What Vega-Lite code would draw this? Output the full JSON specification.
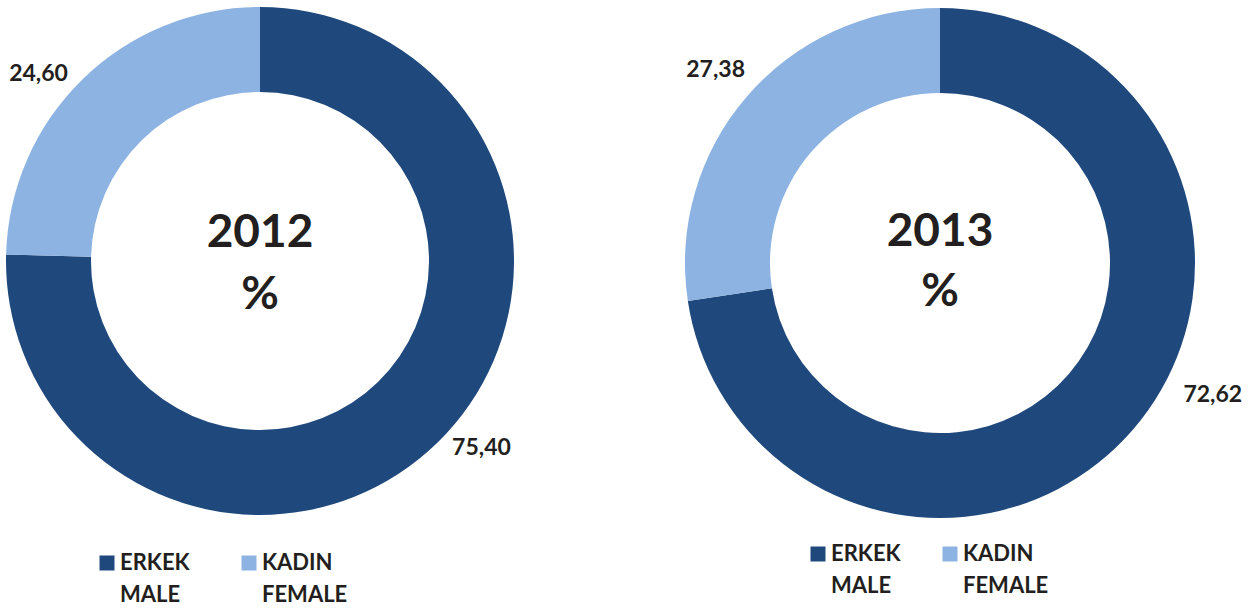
{
  "$schema": "https://vega.github.io/schema/vega-lite/v6.json",
  "background": "white",
  "padding": 0,
  "spacing": 160,
  "bounds": "flush",
  "data": {"values": [
    {"year": "2012", "sex": "ERKEK/MALE", "value": 75.40},
    {"year": "2012", "sex": "KADIN/FEMALE", "value": 24.60},
    {"year": "2013", "sex": "ERKEK/MALE", "value": 72.62},
    {"year": "2013", "sex": "KADIN/FEMALE", "value": 27.38}
  ]},
  "hconcat": [
    {
      "width": 520,
      "height": 522,
      "transform": [{"filter": "datum.year == '2012'"}],
      "resolve": {"scale": {"theta": "independent"}},
      "layer": [
        {
          "mark": {"type": "arc", "radius": 254, "radius2": 169},
          "encoding": {
            "theta": {"field": "value", "type": "quantitative", "stack": true},
            "order": {"field": "sex"},
            "color": {
              "field": "sex", "type": "nominal",
              "scale": {"domain": ["ERKEK/MALE", "KADIN/FEMALE"], "range": ["#1F497D", "#8DB3E2"]},
              "legend": {"title": null, "orient": "none", "direction": "horizontal", "legendX": 96, "legendY": 552, "columnPadding": 48,
                "labelExpr": "split(datum.label, '/')"}
            }
          }
        },
        {
          "mark": {"type": "text", "radius": 290, "font": "Lato", "fontSize": 23, "fontWeight": "bold", "color": "#231F20", "align": "center", "baseline": "middle"},
          "encoding": {
            "theta": {"field": "value", "type": "quantitative", "stack": true, "scale": {"range": [-0.096, 6.187]}},
            "order": {"field": "sex"},
            "text": {"field": "value", "type": "quantitative", "format": ".2f"}
          }
        },
        {
          "transform": [{"filter": "datum.sex == 'ERKEK/MALE'"}],
          "mark": {"type": "text", "text": ["2012", "%"], "lineHeight": 62, "dy": -28, "font": "Lato", "fontSize": 46, "fontWeight": "bold", "color": "#231F20", "align": "center", "baseline": "middle"},
          "encoding": {}
        }
      ]
    },
    {
      "width": 520,
      "height": 526,
      "transform": [{"filter": "datum.year == '2013'"}],
      "resolve": {"scale": {"theta": "independent"}},
      "layer": [
        {
          "mark": {"type": "arc", "radius": 255, "radius2": 170},
          "encoding": {
            "theta": {"field": "value", "type": "quantitative", "stack": true},
            "order": {"field": "sex"},
            "color": {
              "field": "sex", "type": "nominal",
              "scale": {"domain": ["ERKEK/MALE", "KADIN/FEMALE"], "range": ["#1F497D", "#8DB3E2"]},
              "legend": {"title": null, "orient": "none", "direction": "horizontal", "legendX": 127, "legendY": 543, "columnPadding": 38,
                "labelExpr": "split(datum.label, '/')"}
            }
          }
        },
        {
          "mark": {"type": "text", "radius": 296, "font": "Lato", "fontSize": 23, "fontWeight": "bold", "color": "#231F20", "align": "center", "baseline": "middle"},
          "encoding": {
            "theta": {"field": "value", "type": "quantitative", "stack": true},
            "order": {"field": "sex"},
            "text": {"field": "value", "type": "quantitative", "format": ".2f"},
            "opacity": {"condition": {"test": "datum.sex == 'KADIN/FEMALE'", "value": 1}, "value": 0}
          }
        },
        {
          "mark": {"type": "text", "radius": 303, "font": "Lato", "fontSize": 23, "fontWeight": "bold", "color": "#231F20", "align": "center", "baseline": "middle"},
          "encoding": {
            "theta": {"field": "value", "type": "quantitative", "stack": true, "scale": {"range": [-0.26, 6.023]}},
            "order": {"field": "sex"},
            "text": {"field": "value", "type": "quantitative", "format": ".2f"},
            "opacity": {"condition": {"test": "datum.sex == 'ERKEK/MALE'", "value": 1}, "value": 0}
          }
        },
        {
          "transform": [{"filter": "datum.sex == 'ERKEK/MALE'"}],
          "mark": {"type": "text", "text": ["2013", "%"], "lineHeight": 60, "dy": -31, "font": "Lato", "fontSize": 46, "fontWeight": "bold", "color": "#231F20", "align": "center", "baseline": "middle"},
          "encoding": {}
        }
      ]
    }
  ],
  "resolve": {"scale": {"color": "independent"}, "legend": {"color": "independent"}},
  "config": {
    "view": {"stroke": null},
    "locale": {"number": {"decimal": ",", "thousands": ".", "grouping": [3], "currency": ["", " TL"]}},
    "style": {"guide-label": {"lineHeight": 32}},
    "legend": {
      "symbolType": "square", "symbolSize": 225, "symbolStrokeWidth": 0, "symbolOpacity": 1,
      "labelFont": "Lato", "labelFontSize": 22, "labelFontWeight": "bold", "labelColor": "#231F20",
      "labelOffset": 2, "labelBaseline": "middle", "labelLimit": 300, "padding": 0
    }
  }
}
